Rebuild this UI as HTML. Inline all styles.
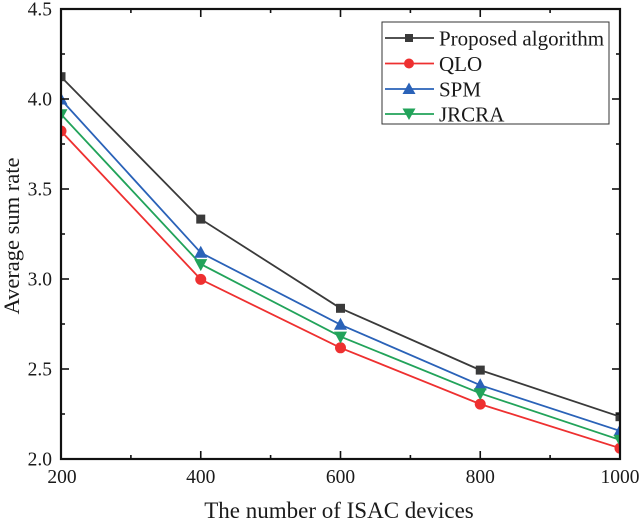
<!DOCTYPE html>
<html>
<head>
<meta charset="utf-8">
<style>
html,body{margin:0;padding:0;background:#fff;}
svg{display:block;}
text{font-family:"Liberation Serif","Times New Roman",serif;fill:#1a1a1a;}
</style>
</head>
<body>
<svg width="640" height="519" viewBox="0 0 640 519" xmlns="http://www.w3.org/2000/svg">
<defs>
<clipPath id="pa"><rect x="61" y="9" width="559" height="450"/></clipPath>
</defs>
<rect width="640" height="519" fill="#fff"/>

<g clip-path="url(#pa)">
  <polyline fill="none" stroke="#3a3a3a" stroke-width="1.8" points="61,76.7 200.75,219.1 340.5,308.3 480.25,370.1 620,416.7"/>
  <polyline fill="none" stroke="#2a62b8" stroke-width="1.8" points="61,99.5 200.75,252.7 340.5,324.7 480.25,385.2 620,430.9"/>
  <polyline fill="none" stroke="#22a35a" stroke-width="1.8" points="61,114.3 200.75,264.1 340.5,336.6 480.25,393.3 620,439.9"/>
  <polyline fill="none" stroke="#ee3030" stroke-width="1.8" points="61,131 200.75,279.4 340.5,347.8 480.25,404.1 620,448.2"/>

  <g fill="#3a3a3a">
    <rect x="56.5" y="72.2" width="9" height="9"/>
    <rect x="196.25" y="214.6" width="9" height="9"/>
    <rect x="336" y="303.8" width="9" height="9"/>
    <rect x="475.75" y="365.6" width="9" height="9"/>
    <rect x="615.5" y="412.2" width="9" height="9"/>
  </g>
  <g fill="#ee3030">
    <circle cx="61" cy="131" r="5.5"/>
    <circle cx="200.75" cy="279.4" r="5.5"/>
    <circle cx="340.5" cy="347.8" r="5.5"/>
    <circle cx="480.25" cy="404.1" r="5.5"/>
    <circle cx="620" cy="448.2" r="5.5"/>
  </g>
  <g fill="#2a62b8">
    <polygon points="61,92.5 67.5,104.5 54.5,104.5"/>
    <polygon points="200.75,245.7 207.25,257.7 194.25,257.7"/>
    <polygon points="340.5,317.7 347,329.7 334,329.7"/>
    <polygon points="480.25,378.2 486.75,390.2 473.75,390.2"/>
    <polygon points="620,423.9 626.5,435.9 613.5,435.9"/>
  </g>
  <g fill="#22a35a">
    <polygon points="61,121.3 67.5,109.3 54.5,109.3"/>
    <polygon points="200.75,271.1 207.25,259.1 194.25,259.1"/>
    <polygon points="340.5,343.6 347,331.6 334,331.6"/>
    <polygon points="480.25,400.3 486.75,388.3 473.75,388.3"/>
    <polygon points="620,446.9 626.5,434.9 613.5,434.9"/>
  </g>
</g>

<g stroke="#111" stroke-width="1.6">
  <line x1="200.75" y1="459" x2="200.75" y2="451"/>
  <line x1="340.5" y1="459" x2="340.5" y2="451"/>
  <line x1="480.25" y1="459" x2="480.25" y2="451"/>
  <line x1="130.9" y1="459" x2="130.9" y2="455"/>
  <line x1="270.6" y1="459" x2="270.6" y2="455"/>
  <line x1="410.4" y1="459" x2="410.4" y2="455"/>
  <line x1="550.1" y1="459" x2="550.1" y2="455"/>
  <line x1="200.75" y1="9" x2="200.75" y2="17"/>
  <line x1="340.5" y1="9" x2="340.5" y2="17"/>
  <line x1="480.25" y1="9" x2="480.25" y2="17"/>
  <line x1="130.9" y1="9" x2="130.9" y2="13"/>
  <line x1="270.6" y1="9" x2="270.6" y2="13"/>
  <line x1="410.4" y1="9" x2="410.4" y2="13"/>
  <line x1="550.1" y1="9" x2="550.1" y2="13"/>
  <line x1="61" y1="99" x2="69" y2="99"/>
  <line x1="61" y1="189" x2="69" y2="189"/>
  <line x1="61" y1="279" x2="69" y2="279"/>
  <line x1="61" y1="369" x2="69" y2="369"/>
  <line x1="61" y1="54" x2="65" y2="54"/>
  <line x1="61" y1="144" x2="65" y2="144"/>
  <line x1="61" y1="234" x2="65" y2="234"/>
  <line x1="61" y1="324" x2="65" y2="324"/>
  <line x1="61" y1="414" x2="65" y2="414"/>
  <line x1="620" y1="99" x2="612" y2="99"/>
  <line x1="620" y1="189" x2="612" y2="189"/>
  <line x1="620" y1="279" x2="612" y2="279"/>
  <line x1="620" y1="369" x2="612" y2="369"/>
  <line x1="620" y1="54" x2="616" y2="54"/>
  <line x1="620" y1="144" x2="616" y2="144"/>
  <line x1="620" y1="234" x2="616" y2="234"/>
  <line x1="620" y1="324" x2="616" y2="324"/>
  <line x1="620" y1="414" x2="616" y2="414"/>
</g>

<rect x="61" y="9" width="559" height="450" fill="none" stroke="#111" stroke-width="2.2"/>

<g font-size="19.5" text-anchor="end">
  <text x="52" y="15.5">4.5</text>
  <text x="52" y="105.5">4.0</text>
  <text x="52" y="195.5">3.5</text>
  <text x="52" y="285.5">3.0</text>
  <text x="52" y="375.5">2.5</text>
  <text x="52" y="465.5">2.0</text>
</g>
<g font-size="19.5" text-anchor="middle">
  <text x="62" y="483">200</text>
  <text x="200.75" y="483">400</text>
  <text x="340.5" y="483">600</text>
  <text x="480.25" y="483">800</text>
  <text x="620" y="483">1000</text>
</g>

<text x="339" y="518" font-size="23" text-anchor="middle">The number of ISAC devices</text>
<text transform="translate(19,236) rotate(-90)" font-size="22.5" text-anchor="middle">Average sum rate</text>

<rect x="382" y="22" width="227" height="102" fill="#fff" stroke="#333" stroke-width="1"/>
<g stroke-width="1.8">
  <line x1="385" y1="38" x2="434" y2="38" stroke="#3a3a3a"/>
  <line x1="385" y1="63.5" x2="434" y2="63.5" stroke="#ee3030"/>
  <line x1="385" y1="89" x2="434" y2="89" stroke="#2a62b8"/>
  <line x1="385" y1="114" x2="434" y2="114" stroke="#22a35a"/>
</g>
<rect x="405" y="34" width="8" height="8" fill="#3a3a3a"/>
<circle cx="409" cy="63.5" r="5" fill="#ee3030"/>
<polygon points="409,82.5 415.5,94 402.5,94" fill="#2a62b8"/>
<polygon points="409,120 415.5,108.5 402.5,108.5" fill="#22a35a"/>
<g font-size="21">
  <text x="439" y="45.5">Proposed algorithm</text>
  <text x="439" y="71">QLO</text>
  <text x="439" y="96.5">SPM</text>
  <text x="439" y="121.5">JRCRA</text>
</g>
</svg>
</body>
</html>
